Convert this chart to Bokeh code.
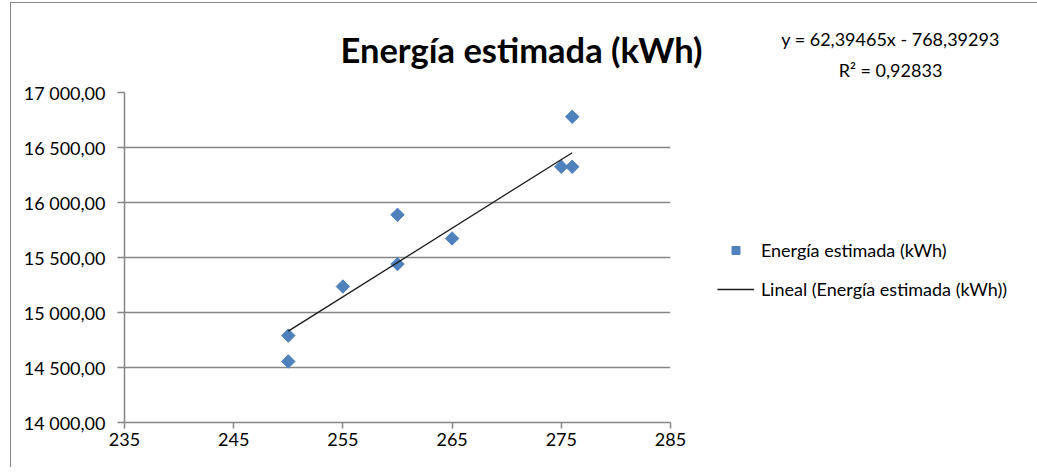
import numpy as np
from bokeh.plotting import figure
from bokeh.models import (FixedTicker, CustomJSTickFormatter, Range1d, Legend,
                          LegendItem, Label, ColumnDataSource)
from bokeh.embed import file_html
from bokeh.resources import INLINE

# ---- data ----
x_power = [250, 250, 255, 260, 260, 265, 275, 276, 276]
energy_kwh = [14790, 14555, 15236, 15888, 15440, 15673, 16325, 16325, 16779]
trend_slope = 62.39465
trend_intercept = -768.39293
r_squared = 0.92833
x_ticks = [235, 245, 255, 265, 275, 285]
y_ticks = [14000, 14500, 15000, 15500, 16000, 16500, 17000]
title_text = "Energía estimada (kWh)"
series_label = "Energía estimada (kWh)"
trend_label = "Lineal (Energía estimada (kWh))"

FONT = "Lato"
GRAY = "#868686"
BLUE = "#4F81BD"

p = figure(output_backend="svg", toolbar_location=None,
           x_range=Range1d(x_ticks[0], x_ticks[-1]),
           y_range=Range1d(y_ticks[0], y_ticks[-1]),
           frame_width=546, frame_height=330,
           min_border_left=113, min_border_right=340,
           min_border_top=89, min_border_bottom=45)
p.styles = {"margin-top": "2px", "margin-left": "10px",
            "border-top": "1px solid " + GRAY, "border-left": "1px solid " + GRAY}

src = ColumnDataSource(dict(x=x_power, y=energy_kwh))
r_pts = p.scatter(x="x", y="y", source=src, marker="square", size=9.5,
                  angle=np.pi / 4, fill_color=BLUE, line_color=BLUE)

tx = np.array([min(x_power), max(x_power)], dtype=float)
ty = trend_slope * tx + trend_intercept
r_trend = p.line(tx, ty, line_color="#1a1a1a", line_width=1.3)

# title
p.title.text = title_text
p.title.text_font = FONT
p.title.text_font_size = "34.5px"
p.title.text_font_style = "bold"
p.title.text_color = "#000000"
p.title.align = "left"
p.title.offset = 216
p.title.standoff = 46

# axes
p.xaxis.ticker = FixedTicker(ticks=x_ticks)
p.yaxis.ticker = FixedTicker(ticks=y_ticks)
p.yaxis.formatter = CustomJSTickFormatter(code="""
const parts = tick.toFixed(2).split('.');
return parts[0].replace(/\\B(?=(\\d{3})+(?!\\d))/g, ' ') + ',' + parts[1];
""")
for ax in (p.xaxis[0], p.yaxis[0]):
    ax.axis_line_color = GRAY
    ax.axis_line_width = 1.5
    ax.major_tick_line_color = GRAY
    ax.major_tick_line_width = 1.5
    ax.major_tick_in = 0
    ax.minor_tick_line_color = None
    ax.major_label_text_font = FONT
    ax.major_label_text_font_size = "18px"
    ax.major_label_text_color = "#000000"
p.yaxis.major_tick_out = 7
p.yaxis.major_label_standoff = 12
p.xaxis.major_tick_out = 6
p.xaxis.major_label_standoff = 4

p.xgrid.grid_line_color = None
p.ygrid.grid_line_color = GRAY
p.ygrid.grid_line_width = 1.5
p.outline_line_color = None

# trendline equation (right-hand panel, nearest the frame)
eq_text = ("y = %.5fx - %.5f" % (trend_slope, abs(trend_intercept))).replace(".", ",")
r2_text = ("R² = %.5f" % r_squared).replace(".", ",")
eq_label = Label(x=220, y=368, x_units="screen", y_units="screen",
                 text=eq_text + "\n" + r2_text,
                 text_align="center", text_baseline="middle",
                 text_font=FONT, text_font_size="18px", text_line_height=1.4,
                 text_color="#000000")
p.add_layout(eq_label, "right")

# legend (right-hand panel, after the equation label)
legend = Legend(items=[LegendItem(label=series_label, renderers=[r_pts]),
                       LegendItem(label=trend_label, renderers=[r_trend])],
                location=(-404, 122), border_line_color=None,
                background_fill_alpha=0, padding=0, margin=0, spacing=17,
                glyph_width=37, glyph_height=20, label_height=20,
                label_standoff=7, label_text_font=FONT,
                label_text_font_size="18px", label_text_color="#000000")
p.add_layout(legend, "right")

open("out.html", "w").write(file_html(p, INLINE))
